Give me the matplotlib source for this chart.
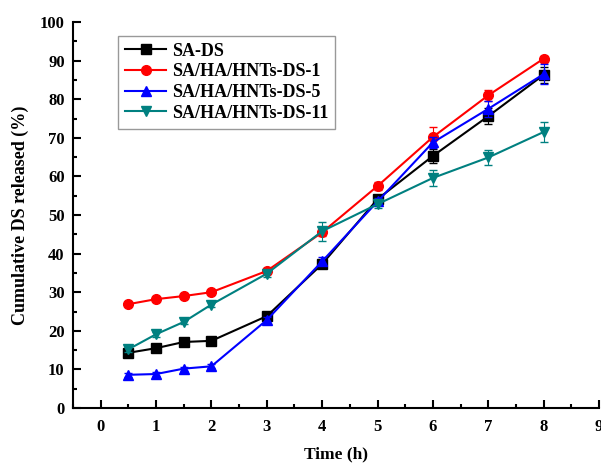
import matplotlib
matplotlib.use("Agg")
import matplotlib.pyplot as plt
from matplotlib.ticker import MultipleLocator

plt.rcParams['font.family'] = ['Liberation Serif', 'DejaVu Serif']
plt.rcParams['font.weight'] = 'bold'

time = [0.5, 1, 1.5, 2, 3, 4, 5, 6, 7, 8]

sa_ds = [14.3, 15.5, 17.1, 17.4, 23.8, 37.3, 54.1, 65.3, 75.6, 86.3]
sa_ds_err = [0.5, 0.5, 0.5, 0.5, 0.8, 1.0, 1.2, 1.8, 2.0, 2.0]

ds1 = [26.9, 28.2, 29.0, 30.0, 35.5, 45.5, 57.5, 70.2, 81.0, 90.5]
ds1_err = [0.5, 0.5, 0.5, 0.5, 0.8, 1.0, 1.0, 2.5, 1.5, 0.8]

ds5 = [8.6, 8.8, 10.2, 10.8, 22.8, 38.0, 53.5, 68.8, 77.5, 86.5]
ds5_err = [0.5, 0.5, 0.5, 0.5, 0.8, 1.0, 1.0, 1.5, 2.0, 2.5]

ds11 = [15.2, 19.1, 22.3, 26.8, 34.8, 45.8, 52.8, 59.6, 64.9, 71.5]
ds11_err = [0.6, 0.6, 0.6, 0.6, 0.8, 2.5, 1.0, 2.0, 2.0, 2.5]

labels = ['SA-DS', 'SA/HA/HNTs-DS-1', 'SA/HA/HNTs-DS-5', 'SA/HA/HNTs-DS-11']
series = [sa_ds, ds1, ds5, ds11]
errors = [sa_ds_err, ds1_err, ds5_err, ds11_err]
colors = ['black', 'red', 'blue', '#008080']
markers = ['s', 'o', '^', 'v']

fig = plt.figure(figsize=(6.01, 4.68), dpi=100)
ax = fig.add_axes([73/601, 60/468, 526/601, 386/468])

for y, e, c, m, lab in zip(series, errors, colors, markers, labels):
    ax.errorbar(time, y, yerr=e, fmt='none', ecolor=c, capsize=3, elinewidth=0.8)
    ax.plot(time, y, color=c, marker=m, markersize=7, lw=1.5, label=lab)

ax.set_xlim(-0.5, 9)
ax.set_ylim(0, 100)
ax.xaxis.set_major_locator(MultipleLocator(1))
ax.xaxis.set_minor_locator(MultipleLocator(0.5))
ax.yaxis.set_major_locator(MultipleLocator(10))
ax.yaxis.set_minor_locator(MultipleLocator(5))
ax.tick_params(which='both', direction='in', width=1.5, labelsize=12)
ax.tick_params(which='major', length=6)
ax.tick_params(which='minor', length=3)
ax.tick_params(axis='x', pad=8)
ax.tick_params(axis='y', pad=6)
ax.spines['top'].set_visible(False)
ax.spines['right'].set_visible(False)
ax.spines['left'].set_linewidth(1.5)
ax.spines['bottom'].set_linewidth(1.5)

ax.set_xlabel('Time (h)', fontsize=12.5, fontweight='bold', labelpad=8)
ax.set_ylabel('Cumulative DS released (%)', fontsize=13, fontweight='bold', labelpad=8)

leg = ax.legend(loc='upper left', bbox_to_anchor=(0.085, 0.965), fontsize=13,
                fancybox=False, edgecolor='gray', handlelength=2.3,
                handletextpad=0.3, borderpad=0.4, labelspacing=0.2,
                borderaxespad=0)
leg.get_frame().set_linewidth(1)

fig.savefig('out.png', dpi=100)
